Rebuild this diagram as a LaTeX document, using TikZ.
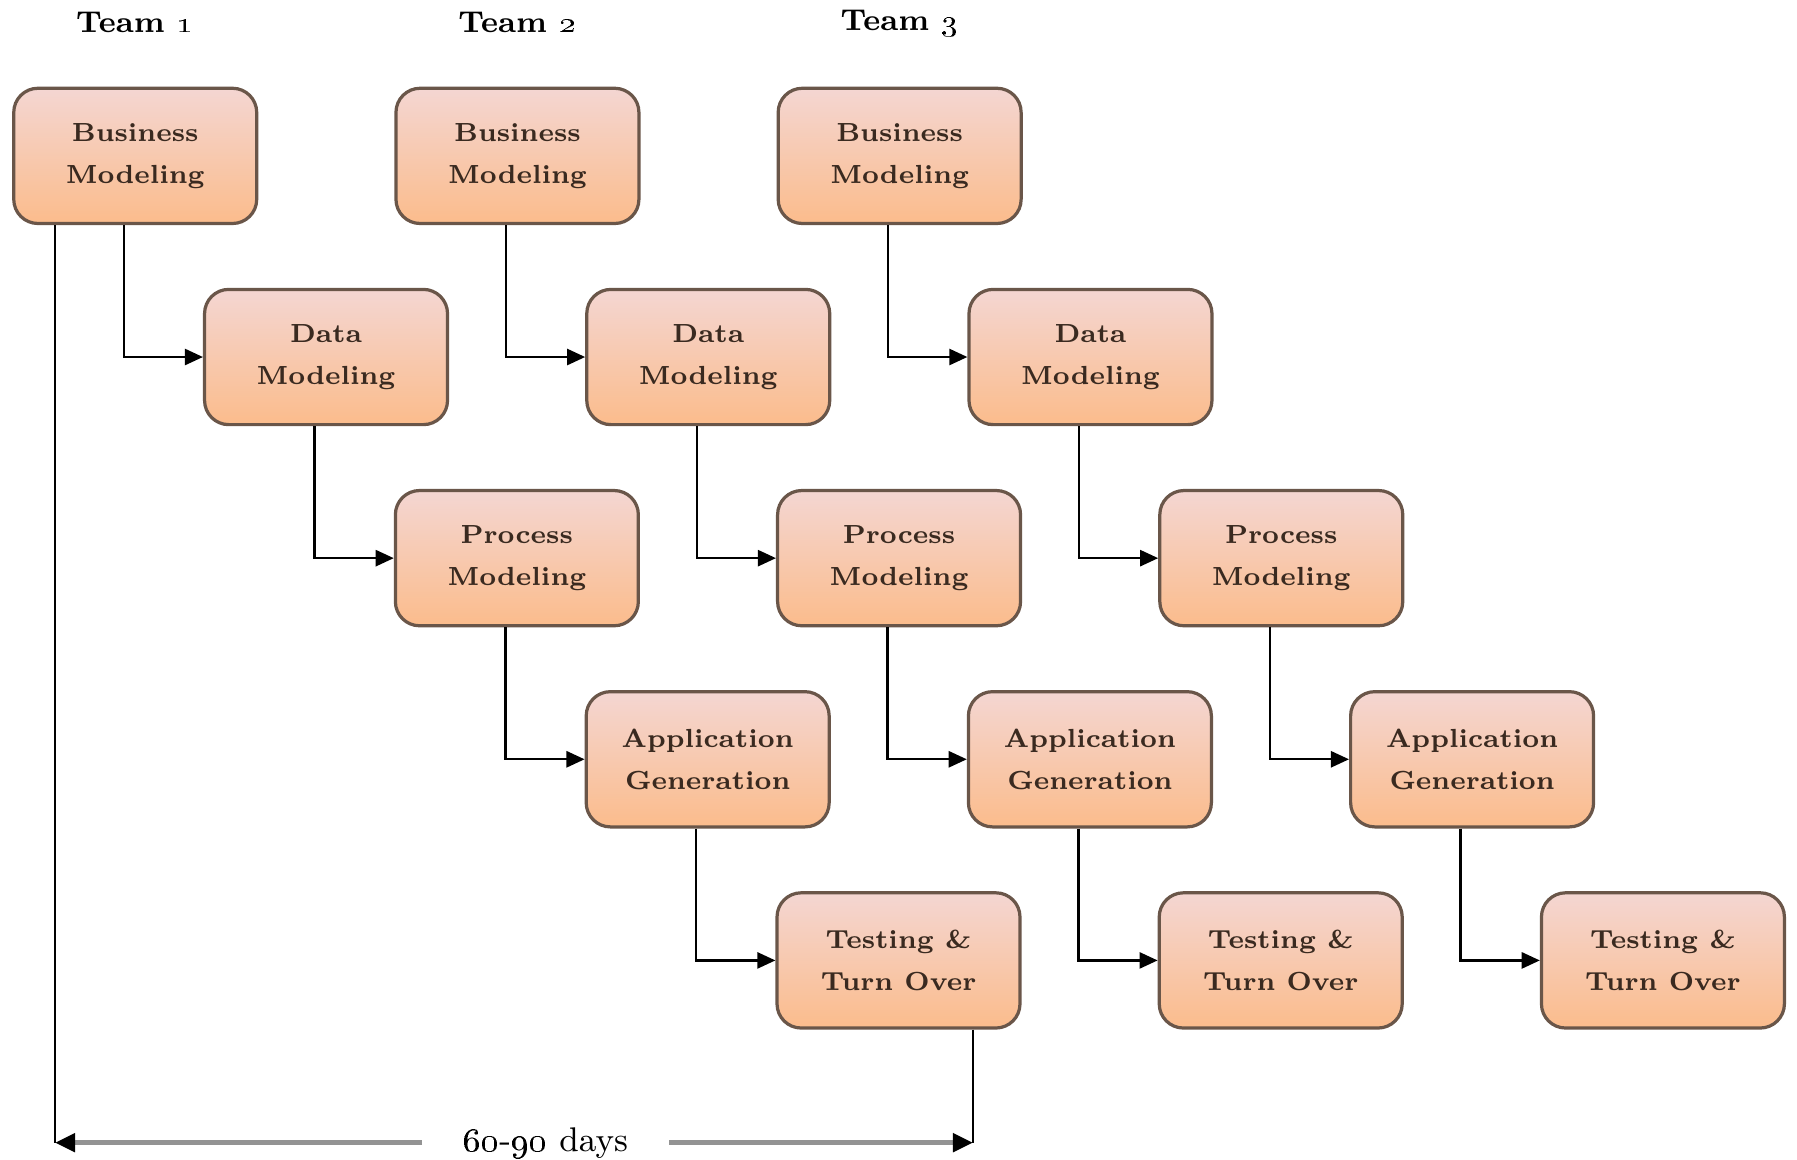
\documentclass[tikz,border=0pt]{standalone}
\usepackage{fix-cm}
\usetikzlibrary{positioning, arrows.meta}
\definecolor{boxtop}{HTML}{F4D6D2}
\definecolor{boxbottom}{HTML}{FBBC8C}
\definecolor{boxline}{HTML}{6A5649}
\definecolor{boxtext}{HTML}{3A2A20}
\tikzset{
>={Triangle[length=4.5pt, width=4pt]}, % filled black heads
phase/.style={rectangle, rounded corners=6pt, draw=boxline, line width=0.8pt,
  top color=boxtop, bottom color=boxbottom, minimum width=2.12cm,
  minimum height=1.18cm, align=center, text=boxtext,
  font=\bfseries\fontsize{6.5}{10.5}\selectfont}, % one step of a team
team label/.style={font=\bfseries\fontsize{7.5}{9}\selectfont},
flow/.style={->, line width=0.6pt},
span line/.style={line width=1.2pt, gray!85, -{Triangle[length=5pt, width=4.5pt, color=black]}},
}

\begin{document}
\begin{tikzpicture}[node distance=1.755cm and 1.665cm, on grid]
    \useasboundingbox (0,0) rectangle (15.68,-10.12);

    \foreach \tm/\x in {1/1.18, 2/4.515, 3/7.85}{
        \node[phase] (bm\tm) at (\x,-1.36) {Business\\Modeling};
        \node[phase, below right=of bm\tm] (dm\tm) {Data\\Modeling};
        \node[phase, below right=of dm\tm] (pm\tm) {Process\\Modeling};
        \node[phase, below right=of pm\tm] (ag\tm) {Application\\Generation};
        \node[phase, below right=of ag\tm] (tt\tm) {Testing \&\\Turn Over};
        \node[team label, above=1.16cm of bm\tm] (team\tm) {Team \oldstylenums{\tm}};

        \draw[flow] ([xshift=-1mm]bm\tm.south) |- (dm\tm.west);
        \draw[flow] ([xshift=-1mm]dm\tm.south) |- (pm\tm.west);
        \draw[flow] ([xshift=-1mm]pm\tm.south) |- (ag\tm.west);
        \draw[flow] ([xshift=-1mm]ag\tm.south) |- (tt\tm.west);
    }

    % duration of one team
    \node[inner xsep=10pt, font=\fontsize{8.5}{10}\selectfont] (days) at (4.76,-9.97)
        {\oldstylenums{60}-\oldstylenums{90} days};
    \coordinate (sl) at ([xshift=-7mm]bm1.south);
    \coordinate (sr) at ([xshift=6.5mm]tt1.south);
    \coordinate (bl) at (sl |- days);
    \coordinate (br) at (sr |- days);
    \draw[line width=0.6pt] (sl) -- (bl);
    \draw[line width=0.6pt] (sr) -- (br);
    \draw[span line] (days.west) -- (bl);
    \draw[span line] (days.east) -- (br);
\end{tikzpicture}
\end{document}
